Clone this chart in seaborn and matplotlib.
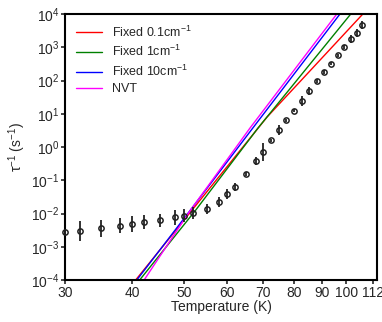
import numpy as np
import matplotlib
matplotlib.use("Agg")
import matplotlib.pyplot as plt
import matplotlib.ticker as mticker
import seaborn as sns

# measured relaxation rate (open circles with error bars)
temp_meas = [30.0, 32.0, 35.0, 38.0, 40.0, 42.0, 45.0, 48.0, 50.0, 52.0, 55.0,
             58.0, 60.0, 62.0, 65.0, 68.0, 70.0, 72.4, 75.0, 77.4, 80.0, 82.8,
             85.3, 88.2, 90.8, 93.6, 96.3, 98.9, 101.8, 104.6, 107.0]
rate_meas = [2.8e-3, 3.0e-3, 3.6e-3, 4.3e-3, 4.8e-3, 5.5e-3, 6.3e-3, 7.7e-3,
             8.7e-3, 1.05e-2, 1.4e-2, 2.2e-2, 3.9e-2, 6.4e-2, 0.15, 0.38, 0.71,
             1.6, 3.2, 6.3, 12.3, 25, 48, 97, 180, 320, 570, 1020, 1740, 2740, 4570]
# half length of error bars, in decades
err_dec = [0.10, 0.30, 0.25, 0.22, 0.25, 0.22, 0.20, 0.22, 0.19, 0.18, 0.15,
           0.15, 0.14, 0.12, 0.06, 0.12, 0.28, 0.05, 0.15, 0.05, 0.05, 0.15,
           0.12, 0.05, 0.05, 0.05, 0.05, 0.05, 0.12, 0.12, 0.12]

# model curves
temp_fix01 = [40.6, 53.0, 71.2, 107.3]
rate_fix01 = [1e-4, 2.1e-2, 7.9, 1e4]
temp_fix1 = [41.3, 52.5, 68.5, 101.9]
rate_fix1 = [1e-4, 1.27e-2, 3.7, 1e4]
temp_fix10 = [40.8, 51.0, 67.0, 97.3]
rate_fix10 = [1e-4, 1.11e-2, 3.7, 1e4]
temp_nvt = [42.1, 51.2, 66.2, 96.0]
rate_nvt = [1e-4, 1.19e-2, 3.7, 1e4]

x_ticks = [30, 40, 50, 60, 70, 80, 90, 100, 112]

sns.set_style("ticks")
plt.rcParams['font.family'] = ['Liberation Sans', 'DejaVu Sans']
plt.rcParams['mathtext.fontset'] = 'custom'
plt.rcParams['mathtext.rm'] = 'Liberation Sans'
plt.rcParams['mathtext.it'] = 'Liberation Sans:italic'

fig = plt.figure(figsize=(3.82, 3.22), dpi=100)
ax = fig.add_axes([0.170, 0.1304, 0.8168, 0.826])

curves = [
    (temp_fix01, rate_fix01, 'red', 'Fixed 0.1cm$^{-1}$'),
    (temp_fix1, rate_fix1, 'green', 'Fixed 1cm$^{-1}$'),
    (temp_fix10, rate_fix10, 'blue', 'Fixed 10cm$^{-1}$'),
    (temp_nvt, rate_nvt, 'magenta', 'NVT'),
]
for t, r, c, lab in curves:
    sns.lineplot(x=t, y=r, color=c, lw=1.0, label=lab, sort=False, ax=ax)

rate = np.array(rate_meas)
e = np.array(err_dec)
yerr = [rate - rate * 10 ** (-e), rate * 10 ** e - rate]
ax.errorbar(temp_meas, rate, yerr=yerr, fmt='o', mfc='none', mec='#222222',
            ms=3.8, mew=1.1, ecolor='#222222', elinewidth=1.3, capsize=0,
            zorder=3, clip_on=False)

ax.set_xscale('log')
ax.set_yscale('log')
ax.set_xlim(30, 114)
ax.set_ylim(1e-4, 1e4)
ax.xaxis.set_major_locator(mticker.FixedLocator(x_ticks))
ax.xaxis.set_major_formatter(mticker.FixedFormatter([str(v) for v in x_ticks]))
ax.xaxis.set_minor_locator(mticker.NullLocator())
ax.yaxis.set_major_locator(mticker.LogLocator(base=10, numticks=20))
ax.yaxis.set_minor_locator(mticker.NullLocator())

for s in ax.spines.values():
    s.set_linewidth(1.5)
    s.set_color('black')
ax.tick_params(direction='out', length=3, width=1.2, labelsize=10, pad=1)

ax.set_xlabel('Temperature (K)', fontsize=10, labelpad=0)
ax.set_ylabel('τ$^{-1}$ (s$^{-1}$)', fontsize=10, labelpad=2)

ax.legend(loc='upper left', frameon=False, fontsize=9, handlelength=2.1,
          handletextpad=0.8, labelspacing=0.35, borderaxespad=0.45)

fig.savefig('out.png', dpi=100)
